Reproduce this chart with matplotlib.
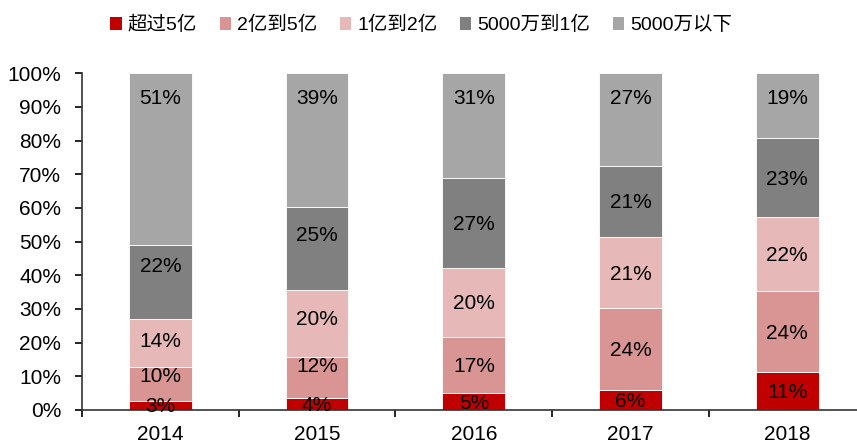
#!/usr/bin/env python

import numpy as np
import matplotlib.pyplot as plt
from matplotlib.patches import Patch

plt.rcParams['font.family'] = ['Liberation Sans', 'Noto Sans CJK SC', 'DejaVu Sans']

# ----------------------------------------------------------------------
# Data (share of total, %)
# ----------------------------------------------------------------------

years = ['2014', '2015', '2016', '2017', '2018']
series = ['超过5亿', '2亿到5亿', '1亿到2亿', '5000万到1亿', '5000万以下']

over5 = [2.8, 3.7, 5.1, 5.9, 11.2]
from2to5 = [9.9, 12.1, 16.7, 24.3, 24.2]
from1to2 = [14.4, 19.7, 20.4, 21.3, 22.0]
from05to1 = [22.0, 24.9, 26.7, 21.1, 23.4]
under05 = [50.9, 39.6, 31.1, 27.4, 19.2]

labels = [
    [3, 4, 5, 6, 11],
    [10, 12, 17, 24, 24],
    [14, 20, 20, 21, 22],
    [22, 25, 27, 21, 23],
    [51, 39, 31, 27, 19],
]

colors = ['#C00000', '#D99594', '#E6B9B8', '#808080', '#A6A6A6']

# a few labels were nudged by hand in the original (series, year): shift
nudge = {(1, 0): 2.8, (2, 0): 0.9, (3, 0): 5.0,
         (1, 1): 3.6, (2, 1): 1.7, (3, 1): 4.5}

# ----------------------------------------------------------------------
# Plot
# ----------------------------------------------------------------------

fig = plt.figure(figsize=(8.57, 4.45), dpi=100)
ax = fig.add_axes([0.0957, 0.0787, 0.9043, 0.7566])

x = np.arange(len(years))
bottom = np.zeros(len(years))
data = [over5, from2to5, from1to2, from05to1, under05]

for i, vals in enumerate(data):
    vals = np.array(vals)
    ax.bar(x, vals, width=0.4, bottom=bottom, color=colors[i],
           edgecolor='white', linewidth=0.6)
    for j in range(len(years)):
        if i == len(data) - 1:
            # top segment: label sits near the top end
            ypos = bottom[j] + vals[j] - 7.6
        else:
            ypos = bottom[j] + vals[j] / 2.0 - 0.5 + nudge.get((i, j), 0.0)
        ax.text(x[j], ypos, '%d%%' % labels[i][j],
                ha='center', va='center', fontsize=15, color='black')
    bottom += vals

ax.set_ylim(0, 100)
ax.set_xlim(-0.5, 4.445)
ax.set_yticks(np.arange(0, 101, 10))
ax.set_yticklabels(['%d%%' % v for v in range(0, 101, 10)], fontsize=15)

# ticks between categories, labels at centres
ax.set_xticks(np.arange(-0.5, 4.5, 1.0))
ax.set_xticklabels([])
ax.set_xticks(x, minor=True)
ax.set_xticklabels(years, minor=True, fontsize=15)
ax.tick_params(axis='x', which='minor', length=0, pad=11)
ax.tick_params(axis='x', which='major', length=5, width=1.2, direction='out')
ax.tick_params(axis='y', length=5, width=1.2, direction='out', pad=10)

ax.spines['top'].set_visible(False)
ax.spines['right'].set_visible(False)
ax.spines['left'].set_linewidth(1.2)
ax.spines['bottom'].set_linewidth(1.2)
ax.spines['left'].set_color('#333333')
ax.spines['bottom'].set_color('#333333')

handles = [Patch(facecolor=c, edgecolor='none') for c in colors]
fig.legend(handles, series, loc='center', bbox_to_anchor=(0.4915, 0.9435),
           ncol=5, frameon=False, fontsize=14, handlelength=0.6,
           handleheight=0.6, handletextpad=0.3, columnspacing=1.15)

plotfile = 'out.png'
print('writing : ', plotfile)
fig.savefig(plotfile, dpi=100)
plt.close()
